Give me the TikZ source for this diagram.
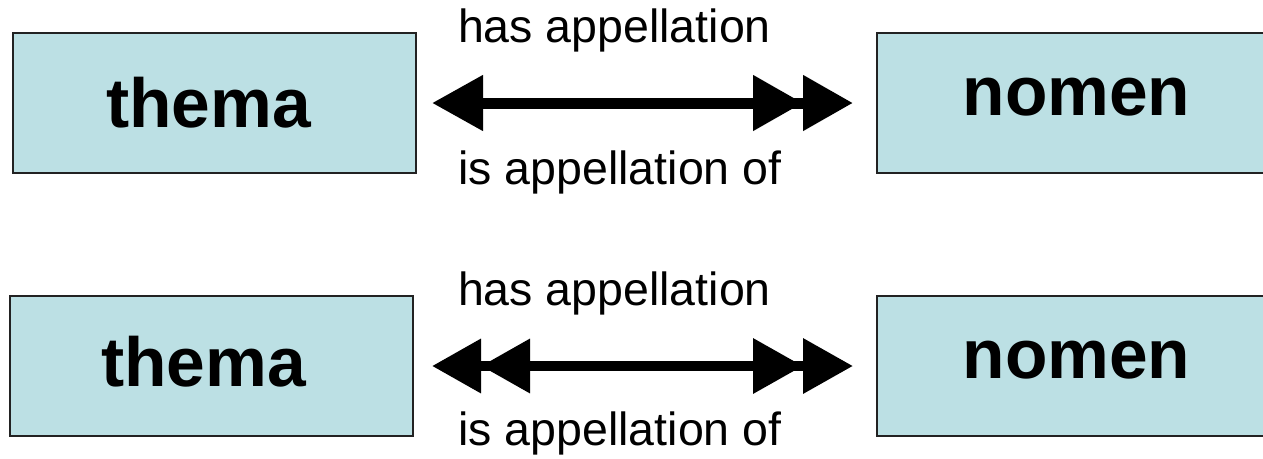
\documentclass[tikz,border=0pt]{standalone}
\usepackage{fontspec}
\setmainfont{Liberation Sans}
\usetikzlibrary{arrows.meta}
\definecolor{boxfill}{RGB}{188,224,228}
\definecolor{boxline}{RGB}{34,34,34}
\begin{document}
\begin{tikzpicture}[x=1pt,y=-1pt,
  entity/.style={draw=boxline, fill=boxfill, line width=2pt, inner sep=0pt,
    minimum width=403pt, minimum height=140pt, rectangle},
  entitytext/.style={anchor=base, inner sep=0pt, font=\fontsize{69.5}{80}\selectfont\bfseries},
  reltext/.style={anchor=base, inner sep=0pt, font=\fontsize{46.5}{52}\selectfont},
  head/.style={Triangle[length=50pt, width=53pt, sep=0pt]},
  rel/.style={line width=11pt, draw=black}
]
\useasboundingbox (0,0) rectangle (1263,458);
\clip (0,0) rectangle (1263,458);
\fill[white] (0,0) rectangle (1263,458);

% top row
\node[entity] (t1) at (214.5,103) {};
\node[entity] (n1) at (1078.5,103) {};
\node[entitytext] (t1txt) at (208.5,127) {thema};
\node[entitytext] (n1txt) at (1076.5,115) {nomen};
\node[reltext] (has1) at (614.5,42) {has appellation};
\node[reltext] (is1) at (620,184) {is appellation of};
\draw[rel, {Triangle[length=51pt,width=53pt]}-{Triangle[length=50pt,width=53pt,sep=0pt]Triangle[length=50pt,width=53pt]},
  shorten <=15pt, shorten >=23pt] (t1.east) -- (n1.west);

% bottom row
\node[entity] (t2) at (211.5,366) {};
\node[entity] (n2) at (1078.5,366) {};
\node[entitytext] (t2txt) at (203.5,386) {thema};
\node[entitytext] (n2txt) at (1076.5,378) {nomen};
\node[reltext] (has2) at (614.5,305) {has appellation};
\node[reltext] (is2) at (620,445) {is appellation of};
\draw[rel, line width=10pt,
  {Triangle[length=49pt,width=52pt,sep=0pt]Triangle[length=49pt,width=52pt]}-{Triangle[length=50pt,width=53pt,sep=0pt]Triangle[length=50pt,width=53pt]},
  shorten <=18pt, shorten >=23pt] (t2.east) -- (n2.west);
\end{tikzpicture}
\end{document}
